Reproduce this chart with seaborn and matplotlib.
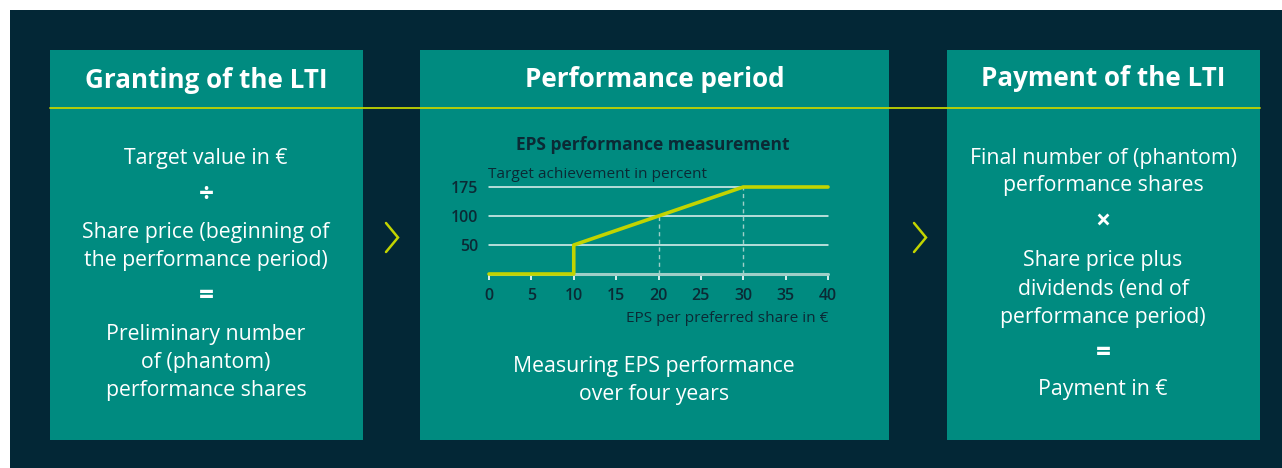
import numpy as np
import pandas as pd
import matplotlib
matplotlib.use("Agg")
import matplotlib.pyplot as plt
from matplotlib.patches import Rectangle
from matplotlib.lines import Line2D
import seaborn as sns

# ---------------- data ----------------
eps_values = [0, 10, 10, 20, 30, 40]           # EPS per preferred share in €
achievement = [0, 0, 50, 100, 175, 175]        # target achievement in percent
y_levels = [0, 50, 100, 175]                   # evenly spaced category levels on y axis
y_tick_labels = ["50", "100", "175"]
x_ticks = [0, 5, 10, 15, 20, 25, 30, 35, 40]
dashed_marks_x = [20, 30]
dashed_marks_y = [100, 175]

box_titles = ["Granting of the LTI", "Performance period", "Payment of the LTI"]
box1_lines = ["Target value in €", "÷", "Share price (beginning of", "the performance period)",
              "=", "Preliminary number", "of (phantom)", "performance shares"]
box3_lines = ["Final number of (phantom)", "performance shares", "×", "Share price plus",
              "dividends (end of", "performance period)", "=", "Payment in €"]
box2_caption = ["Measuring EPS performance", "over four years"]
chart_title = "EPS performance measurement"
y_axis_title = "Target achievement in percent"
x_axis_title = "EPS per preferred share in €"

# ---------------- style ----------------
sns.set_theme(style="white")
plt.rcParams["font.family"] = ["Open Sans", "DejaVu Sans"]

W, H = 1282, 468
DARK = "#032736"
TEAL = "#008b80"
LIME = "#c2d400"
TXT_DARK = "#0b2a35"
LIGHT = "#9fcfc8"
BODY = 15.3
DY = 2.5  # vertical text offset in px

fig = plt.figure(figsize=(W / 100, H / 100), dpi=100)
fig.patch.set_facecolor("white")


def fx(x):
    return x / W


def fy(y):
    return 1 - y / H


def rect(x0, y0, x1, y1, color, z=0):
    fig.patches.append(Rectangle((fx(x0), fy(y1)), fx(x1) - fx(x0), fy(y0) - fy(y1),
                                 transform=fig.transFigure, facecolor=color,
                                 edgecolor="none", zorder=z))


def text(x, y, s, size, color="white", weight="normal", ha="center"):
    fig.text(fx(x), fy(y + DY), s, fontsize=size, color=color, fontweight=weight,
             ha=ha, va="center", zorder=6)


# background and boxes
rect(10, 10, W, H, DARK, 0)
boxes = [(50, 363), (420, 889), (947, 1260)]
for (x0, x1) in boxes:
    rect(x0, 50, x1, 440, TEAL, 1)

# header line spanning all boxes
fig.lines.append(Line2D([fx(50), fx(1260)], [fy(108), fy(108)], transform=fig.transFigure,
                        color=LIME, lw=1.3, zorder=3))

# titles
title_y = [78, 77, 76]
for (x0, x1), t, ty in zip(boxes, box_titles, title_y):
    text((x0 + x1) / 2, ty, t, 18.7, weight="bold")

# box 1 body
b1_y = [156, 192, 230, 258, 294, 332, 360, 388]
for s, yy in zip(box1_lines, b1_y):
    big = s in ("÷", "=", "×")
    text(206, yy, s, 19 if big else BODY, weight="bold" if big else "normal")

# box 3 body
b3_y = [156, 183, 219, 258, 287, 315, 351, 387]
for s, yy in zip(box3_lines, b3_y):
    big = s in ("÷", "=", "×")
    text(1103, yy, s, 19 if big else BODY, weight="bold" if big else "normal")

# box 2 texts
text(653, 142, chart_title, 12.5, color=TXT_DARK, weight="bold")
text(488, 172, y_axis_title, 11.1, color=TXT_DARK, ha="left")
text(828, 316, x_axis_title, 11.1, color=TXT_DARK, ha="right")
text(654, 364, box2_caption[0], BODY)
text(654, 392, box2_caption[1], BODY)

# chevrons
for cx in (386, 914):
    fig.lines.append(Line2D([fx(cx), fx(cx + 12), fx(cx)], [fy(223), fy(237.5), fy(252)],
                            transform=fig.transFigure, color=LIME, lw=1.8, zorder=3,
                            solid_joinstyle="miter"))

# ---------------- chart ----------------
ax = fig.add_axes([fx(489), fy(274), fx(828) - fx(489), fy(187) - fy(274)])
ax.set_zorder(5)
ax.set_facecolor("none")
ax.patch.set_alpha(0)
lev_idx = np.arange(len(y_levels), dtype=float)


def fwd(v):
    return np.interp(v, y_levels, lev_idx)


def inv(v):
    return np.interp(v, lev_idx, y_levels)


ax.set_yscale("function", functions=(fwd, inv))
ax.set_xlim(0, 40)
ax.set_ylim(0, 175)

for yv in y_levels[1:]:
    ax.axhline(yv, color="white", lw=1.1, zorder=1, alpha=0.9)
ax.axhline(0, color=LIGHT, lw=2.2, zorder=1)
for xv, yv in zip(dashed_marks_x, dashed_marks_y):
    ax.plot([xv, xv], [0, yv], color=LIGHT, lw=1.0, ls=(0, (3, 2.5)), zorder=1)

df = pd.DataFrame({"eps": eps_values, "ach": achievement})
sns.lineplot(data=df, x="eps", y="ach", ax=ax, estimator=None, sort=False,
             color=LIME, lw=2.6, zorder=4)
for l in ax.lines:
    l.set_clip_on(False)

ax.set_xticks(x_ticks)
ax.set_xticklabels([str(v) for v in x_ticks])
ax.set_yticks([50, 100, 175])
ax.set_yticklabels(y_tick_labels)
ax.yaxis.set_minor_locator(matplotlib.ticker.NullLocator())
ax.tick_params(axis="x", direction="out", length=4, width=1.2, color="white",
               labelcolor=TXT_DARK, labelsize=11.5, pad=6, bottom=True)
ax.tick_params(axis="y", length=0, labelcolor=TXT_DARK, labelsize=11.5, pad=8)
for lab in ax.get_xticklabels() + ax.get_yticklabels():
    lab.set_fontweight("semibold")
for sp in ax.spines.values():
    sp.set_visible(False)
ax.set_xlabel("")
ax.set_ylabel("")
if ax.get_legend():
    ax.get_legend().remove()

fig.savefig("out.png", dpi=100, facecolor=fig.get_facecolor())
